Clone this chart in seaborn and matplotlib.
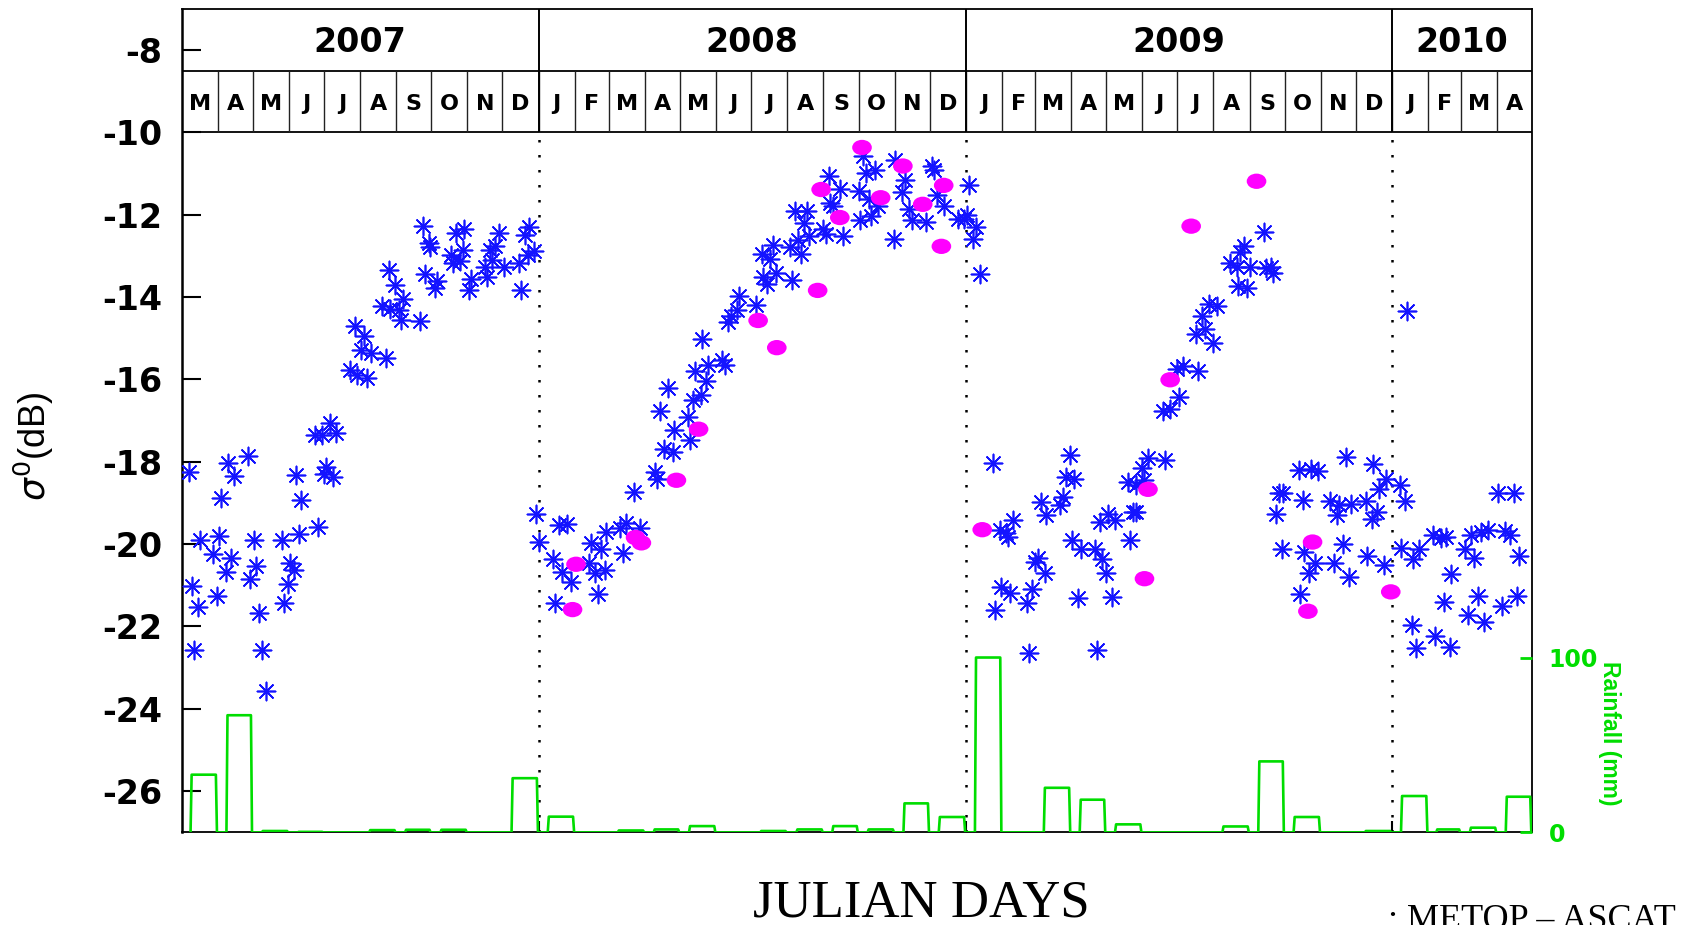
import numpy as np
import pandas as pd
import matplotlib
matplotlib.use("Agg")
import matplotlib.pyplot as plt
from matplotlib.path import Path
import seaborn as sns

sns.set_theme(style="white")
plt.rcParams["font.family"] = ["Liberation Sans", "DejaVu Sans"]
plt.rcParams["axes.unicode_minus"] = False
plt.rcParams["text.color"] = "black"

# ----------------------------------------------------------
# Data (x = days since 1 March 2007)
# ----------------------------------------------------------
years = ["2007", "2008", "2009", "2010"]
y_ticks = [-26, -24, -22, -20, -18, -16, -14, -12, -10, -8]
rain_ticks = [0, 100]

# monthly rainfall (mm), Mar 2007 .. Apr 2010
rain_mm = [33, 67, 0.8, 0.3, 0, 1.3, 1.5, 1.5, 0, 31,
           9, 0, 1.1, 1.7, 3.6, 0, 0.8, 1.7, 3.6, 1.7, 16.6, 8.8,
           100, 0, 25.5, 18.7, 4.6, 0, 0, 3.4, 40.6, 8.8, 0, 0.8,
           20.8, 1.7, 2.7, 20.4]

# METOP-ASCAT sigma0 (asterisks)
ascat_day = [6, 9, 14, 11, 16, 27, 32, 34, 40, 45, 57, 42, 38, 30, 62, 64, 59, 66, 69, 72,
             86, 93, 96, 91, 88, 101, 117, 98, 102, 114, 120, 127, 132, 124, 122, 130,
             144, 150, 159, 149, 156, 154, 162, 175, 172, 179, 186, 188, 190, 204, 178, 183,
             207, 212, 213, 209, 219, 217, 231, 235, 242, 233, 239, 241, 248, 246, 272, 264,
             269, 266, 260, 262, 276, 289, 291, 298, 294, 297, 302,
             304, 306, 323, 330, 318, 326, 334, 320, 351, 359, 364, 376, 381, 393, 378, 349,
             354, 363, 357, 388, 406, 407, 413, 421, 436, 422, 434, 410, 417, 438, 445, 449,
             440, 451, 463, 466, 446, 468, 471, 476, 478, 492, 498, 502, 509, 523, 497, 504,
             507, 521, 528, 531, 538, 526, 536, 533, 550, 552, 567, 556, 558, 555, 564, 580,
             581, 591, 597, 589, 586, 594, 584, 611, 620, 617, 610, 623, 626, 638, 643, 645,
             647, 653, 665, 670,
             675, 673, 681, 678, 684, 695, 712, 701, 706, 708, 734, 731, 740, 702, 710, 729,
             724, 697, 726, 784, 736, 741, 753, 755, 758, 765, 761, 763, 771, 783, 789, 792,
             768, 797, 787, 794, 800, 813, 815, 818, 811, 818, 823, 828, 843, 825, 841, 847,
             855, 853, 858, 871, 869, 877, 884, 874, 880, 887, 905, 913, 898, 904, 915, 910,
             907, 927, 929, 933, 935, 938, 940, 944, 943, 957, 968, 974, 961, 958, 962, 971,
             966, 987, 1000, 995, 998, 984, 990, 992, 1002, 1015, 1021, 1026, 1032, 1024,
             1020, 1016, 1030,
             1044, 1048, 1050, 1045, 1060, 1055, 1072, 1079, 1083, 1088, 1100, 1107, 1105,
             1113, 1119, 1134, 1138, 1128, 1142, 1146, 1144, 1131, 1111, 1102, 1116, 1082,
             1054, 1058, 1074, 1087]
ascat_db = [-18.25, -21.02, -21.52, -22.56, -19.89, -20.24, -19.8, -18.87, -18.04, -18.35,
            -17.87, -20.33, -20.67, -21.25, -19.9, -20.54, -20.85, -21.68, -22.56, -23.56,
            -19.89, -20.45, -20.62, -20.98, -21.44, -19.76, -19.58, -18.33, -18.92, -17.36,
            -17.36, -17.07, -17.3, -18.12, -18.3, -18.38,
            -15.78, -15.9, -15.96, -14.71, -14.95, -15.28, -15.37, -15.48, -14.22, -14.29,
            -14.32, -14.56, -14.05, -14.59, -13.35, -13.7,
            -12.28, -12.7, -12.78, -13.45, -13.62, -13.78, -12.97, -12.44, -12.34, -13.17,
            -13.13, -12.85, -13.57, -13.82, -12.45, -12.87,
            -12.77, -13.1, -13.27, -13.51, -13.27, -13.17, -13.82, -12.3, -12.5, -12.99, -12.88,
            -19.28, -19.95, -19.54, -19.52, -20.37, -20.67, -20.92, -21.44, -19.97, -20.13,
            -19.7, -19.62, -19.48, -19.62, -20.21, -20.47,
            -20.71, -20.63, -21.2, -18.73, -18.26, -18.41, -17.7, -17.76, -17.48, -17.24,
            -16.91, -16.77, -16.21, -16.51, -16.39, -16.04,
            -15.8, -15.66, -15.52, -15.66, -15.03, -14.61, -14.47, -14.32, -13.98, -14.2,
            -13.51, -13.69, -13.42, -13.59, -12.95, -13.07,
            -12.73, -12.79, -12.62, -12.96, -12.52, -11.92, -11.9, -12.2, -12.36, -12.46,
            -12.52, -11.72, -11.78, -11.07, -11.37, -11.43,
            -12.12, -12.04, -11.78, -11.61, -11.0, -10.92, -10.58, -10.68, -11.17, -11.45,
            -12.58, -11.87, -12.12, -12.18, -10.83, -10.91,
            -11.53, -11.8, -12.1, -12.1,
            -11.29, -12.02, -12.3, -12.6, -13.45, -18.02, -19.41, -19.66, -19.74, -19.82,
            -20.33, -20.43, -20.71, -21.04, -21.18, -21.08,
            -21.43, -21.6, -22.64, -22.58, -18.98, -19.3, -19.06, -18.85, -18.37, -18.41,
            -17.84, -19.89, -20.13, -20.11, -20.35, -20.71,
            -21.32, -21.28, -19.46, -19.26, -19.41, -19.89, -19.22, -19.22, -18.49, -18.57,
            -18.14, -17.91, -17.95, -18.45, -16.77, -16.71,
            -16.44, -15.74, -15.68, -15.79, -14.89, -14.77, -15.12, -14.47, -14.18, -14.22,
            -13.74, -13.78, -13.18, -13.26, -13.27, -12.77,
            -12.91, -12.42, -13.29, -13.26, -13.42, -19.26, -18.77, -18.77, -20.11, -18.21,
            -18.17, -18.22, -18.93, -21.2, -20.19, -20.47,
            -20.7, -20.47, -20.81, -19.99, -17.88, -18.95, -19.3, -19.06, -19.02, -18.95,
            -18.06, -18.65, -18.41, -19.22,
            -19.38, -20.3, -20.51,
            -18.56, -18.95, -14.34, -20.1, -20.13, -20.35, -19.77, -19.84, -19.82, -20.73,
            -20.12, -20.34, -19.79,
            -19.7, -19.65, -19.67, -19.79, -18.76, -18.76, -20.3, -21.25, -21.51, -21.27,
            -21.71, -21.88, -21.4,
            -21.97, -22.53, -22.23, -22.49]

# second sensor (filled magenta ellipses)
dot_day = [335, 338, 389, 394, 424, 443, 494, 510, 545, 548, 564, 583, 599, 618, 635,
           653, 651, 686, 921, 865, 847, 828, 825, 969, 965, 1036]
dot_db = [-21.59, -20.49, -19.84, -19.97, -18.45, -17.21, -14.57, -15.23, -13.84, -11.39,
          -12.07, -10.37, -11.59, -10.82, -11.75, -11.29, -12.77, -19.65, -11.19, -12.28,
          -16.01, -18.67, -20.84, -19.95, -21.63, -21.16]

# ----------------------------------------------------------
# Calendar layout
# ----------------------------------------------------------
start = pd.Timestamp("2007-03-01")
months = pd.date_range(start, "2010-05-01", freq="MS")
month_day = (months - start).days.values
month_letters = [m.strftime("%B")[0] for m in months[:-1]]
year_edges = [0] + [(pd.Timestamp(y + "-01-01") - start).days for y in years[1:]] + [month_day[-1]]
x_end = month_day[-1]

BLUE = "#1414ff"
MAGENTA = "#ff00ff"
GREEN = "#00dd00"
WIDE = ["DejaVu Sans"]
split = -8.52

fig = plt.figure(figsize=(17.04, 9.25), dpi=100)
ax = fig.add_axes([181.5 / 1704, 1 - 832.4 / 925, (1532 - 181.5) / 1704, (832.4 - 8.7) / 925])

# sigma0 points
sns.scatterplot(x=ascat_day, y=ascat_db, marker=(8, 2, 0), s=170, color=BLUE,
                linewidth=1.2, ax=ax, zorder=3)
circ = Path.unit_circle()
ellipse = Path(circ.vertices * np.array([1.0, 0.78]), circ.codes)
sns.scatterplot(x=dot_day, y=dot_db, marker=ellipse, s=200, color=MAGENTA,
                edgecolor="none", linewidth=0, ax=ax, zorder=4)

ax.set_xlim(0, x_end)
ax.set_ylim(-27, -7)
ax.set_xlabel("")
ax.set_ylabel("")

# header boxes: years / months
ax.hlines([-10, split], 0, x_end, colors="black", lw=1.3, zorder=2)
ax.vlines(month_day[1:-1], -10, split, colors="#222222", lw=1.0, zorder=2)
ax.vlines(year_edges[1:-1], -10, -7, colors="black", lw=1.4, zorder=2)
ax.vlines(year_edges[1:-1], -27, -10, colors="black", lw=1.8,
          linestyles=(0, (1, 5)), zorder=2)
for i, letter in enumerate(month_letters):
    ax.text((month_day[i] + month_day[i + 1]) / 2, (-10 + split) / 2 - 0.05, letter,
            ha="center", va="center", fontsize=16, fontweight="bold", family=WIDE,
            color="black", zorder=5)
for i, yr in enumerate(years):
    ax.text((year_edges[i] + year_edges[i + 1]) / 2, (split - 7) / 2 - 0.05, yr,
            ha="center", va="center", fontsize=24, fontweight="bold", family=WIDE,
            color="black", zorder=5)

ax.set_yticks(y_ticks)
ax.set_yticklabels([str(v) for v in y_ticks], fontweight="bold", family=WIDE)
ax.tick_params(axis="y", direction="in", length=14, width=1.5, left=True, right=True,
               labelsize=24, pad=14, colors="black")
ax.set_xticks(year_edges[1:-1])
ax.set_xticklabels([])
ax.tick_params(axis="x", direction="in", length=8, width=1.5, bottom=True, top=False,
               colors="black")
for side, sp in ax.spines.items():
    sp.set_color("black")
    sp.set_linewidth(1.8 if side == "left" else 1.3)

# rainfall outline on the twin axis
rx, ry = [], []
for i, v in enumerate(rain_mm):
    s, e = month_day[i], month_day[i + 1]
    w = e - s
    a, b = s + 0.25 * w, e - 0.02 * w
    rx += [a, a + 0.03 * w, b - 0.03 * w, b]
    ry += [0, v, v, 0]
ax2 = ax.twinx()
sns.lineplot(x=np.array(rx), y=np.array(ry), sort=False, estimator=None,
             color=GREEN, lw=1.9, ax=ax2)
ax2.set_ylim(0, 471)
ax2.set_xlim(0, x_end)
ax2.set_ylabel("")
ax2.set_yticks(rain_ticks)
ax2.set_yticklabels([str(v) for v in rain_ticks], fontweight="bold", family=WIDE)
ax2.tick_params(axis="y", direction="in", length=9, width=2, right=True, colors=GREEN,
                labelsize=17, pad=12)
for sp in ax2.spines.values():
    sp.set_visible(False)

# labels
fig.text(0.020, 0.518, r"$\sigma^{0}$(dB)", rotation=90, ha="center", va="center",
         fontsize=26, color="black")
fig.text(1609.5 / 1704, 0.207, "Rainfall (mm)", rotation=270, ha="center", va="center",
         fontsize=16.5, fontweight="bold", color=GREEN)
fig.text(0.5405, 0.009, "JULIAN DAYS", family="Liberation Serif", fontsize=38,
         ha="center", va="baseline", color="black")
fig.text(1388 / 1704, -0.0045, ": METOP \u2013 ASCAT", family="Liberation Serif",
         fontsize=26, ha="left", va="baseline", color="black")

fig.savefig("out.png", dpi=100)
